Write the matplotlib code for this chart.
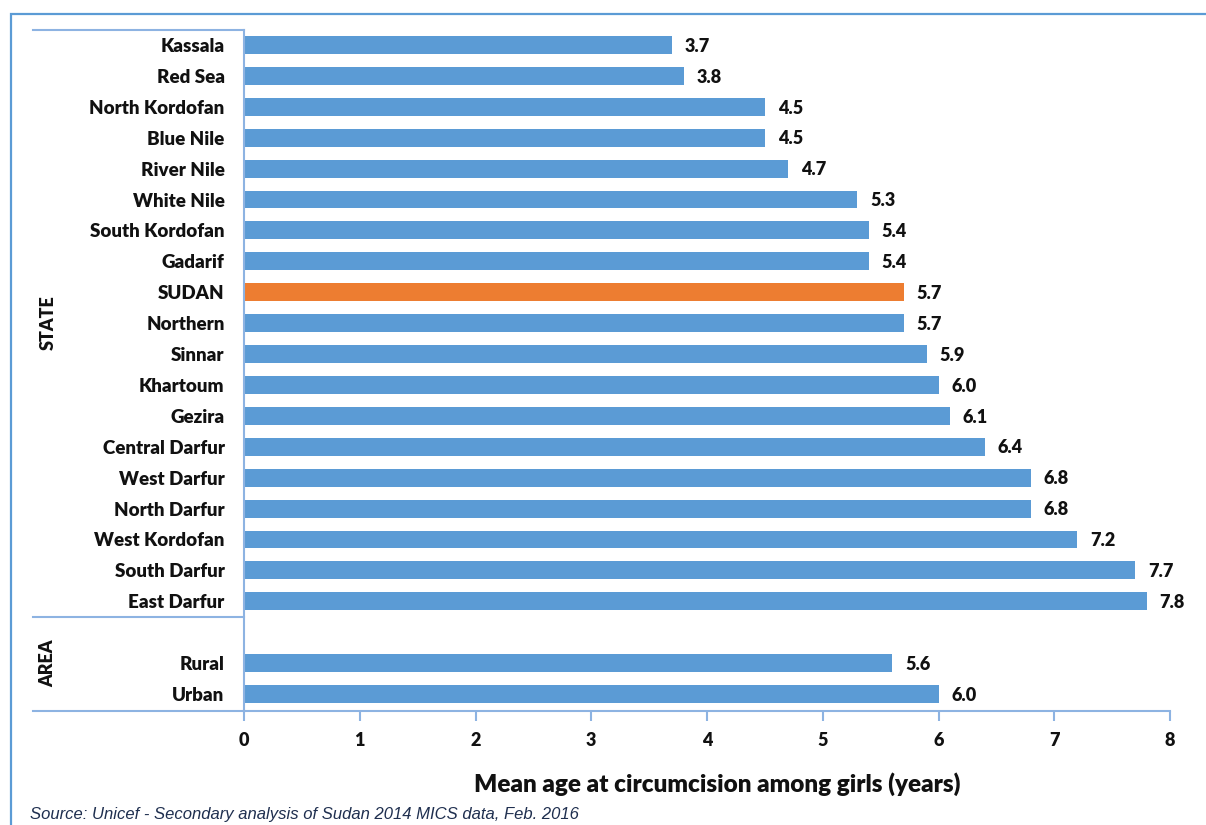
import matplotlib
matplotlib.use("Agg")
import matplotlib.pyplot as plt
from matplotlib.lines import Line2D
from matplotlib.patches import Rectangle

plt.rcParams['font.family'] = ['Lato', 'DejaVu Sans']

state_names = ["Kassala", "Red Sea", "North Kordofan", "Blue Nile", "River Nile",
               "White Nile", "South Kordofan", "Gadarif", "SUDAN", "Northern",
               "Sinnar", "Khartoum", "Gezira", "Central Darfur", "West Darfur",
               "North Darfur", "West Kordofan", "South Darfur", "East Darfur"]
state_values = [3.7, 3.8, 4.5, 4.5, 4.7, 5.3, 5.4, 5.4, 5.7, 5.7,
                5.9, 6.0, 6.1, 6.4, 6.8, 6.8, 7.2, 7.7, 7.8]
area_names = ["Rural", "Urban"]
area_values = [5.6, 6.0]
x_ticks = [0, 1, 2, 3, 4, 5, 6, 7, 8]

BLUE = "#5B9BD5"
ORANGE = "#ED7D31"
LINE = "#8DB3E2"
TEXT = "#111111"

W, H = 1206, 825
fig = plt.figure(figsize=(W / 100, H / 100), dpi=100)

def fx(px):
    return px / W

def fy(py):
    return 1 - py / H

ax = fig.add_axes([fx(244), fy(711), fx(1170) - fx(244), fy(30) - fy(711)])

names = state_names + area_names
values = state_values + area_values
positions = list(range(len(state_names))) + [len(state_names) + 1 + i for i in range(len(area_names))]
colors = [ORANGE if n == "SUDAN" else BLUE for n in names]

ax.barh(positions, values, height=0.58, color=colors, zorder=2)
for p, v in zip(positions, values):
    ax.text(v + 0.11, p + 0.04, f"{v:.1f}", va="center", ha="left",
            fontsize=13, fontweight="heavy", color=TEXT)

ax.set_ylim(21.55, -0.485)
ax.set_xlim(0, 8)
ax.set_yticks(positions)
ax.set_yticklabels(names, fontsize=13.5, fontweight="heavy", color=TEXT)
ax.tick_params(axis="y", length=0, pad=14)
ax.set_xticks(x_ticks)
ax.set_xticklabels([str(t) for t in x_ticks], fontsize=13, fontweight="heavy", color=TEXT)
ax.tick_params(axis="x", direction="out", length=7, width=1.5, color=LINE, pad=8)

for s in ["top", "right"]:
    ax.spines[s].set_visible(False)
for s in ["left", "bottom"]:
    ax.spines[s].set_color(LINE)
    ax.spines[s].set_linewidth(1.5)

fig.text(fx(717), fy(784), "Mean age at circumcision among girls (years)",
         ha="center", va="center", fontsize=17.5, fontweight="heavy", color=TEXT)

# group separators in the label column
for py in (30, 617, 711):
    fig.add_artist(Line2D([fx(33), fx(244)], [fy(py), fy(py)], color=LINE, lw=1.5))

fig.text(fx(48), fy(323), "STATE", rotation=90, ha="center", va="center",
         fontsize=13, fontweight="heavy", color=TEXT)
fig.text(fx(48), fy(663), "AREA", rotation=90, ha="center", va="center",
         fontsize=13, fontweight="heavy", color=TEXT)

fig.text(fx(30), fy(815), "Source: Unicef - Secondary analysis of Sudan 2014 MICS data, Feb. 2016",
         ha="left", va="center", fontsize=12, style="italic", color="#1F2F4F",
         family=["Liberation Sans", "DejaVu Sans"])

# outer chart frame
fig.add_artist(Rectangle((fx(11), fy(860)), fx(1220) - fx(11), fy(14) - fy(860),
                         fill=False, edgecolor=BLUE, lw=1.6))

fig.savefig("out.png", dpi=100)
